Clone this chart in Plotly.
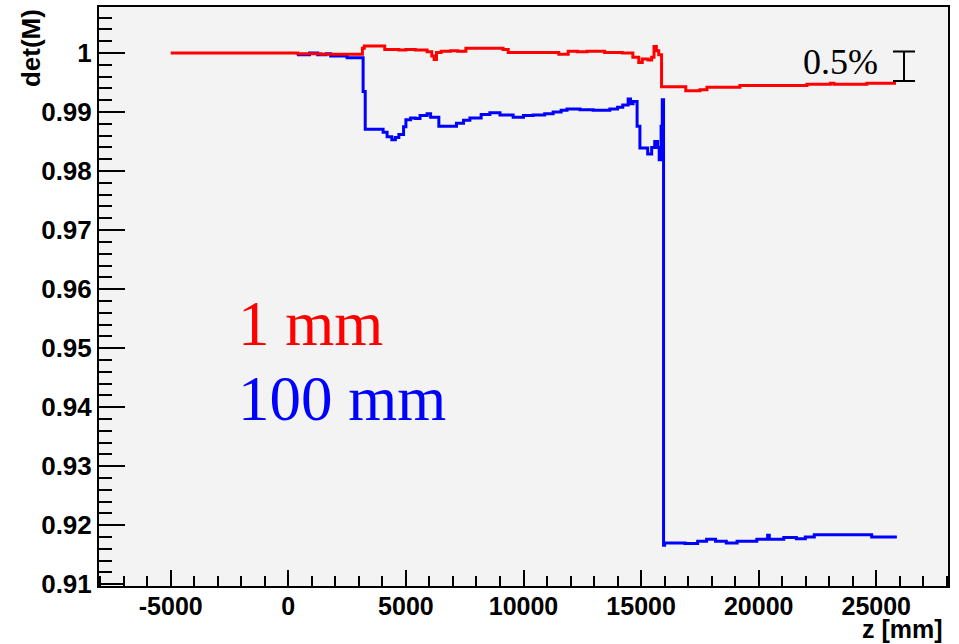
import plotly.graph_objects as go

# ---- data ----
z_1mm = [-5000, 400, 1400, 3150, 3230, 4100, 4700, 5000, 5400, 5900, 6100, 6200, 6300, 6500,
         6900, 7200, 7550, 9130, 9350, 11500, 11900, 12300, 12700, 13450, 14200, 14650, 14900,
         15050, 15300, 15450, 15550, 15650, 15750, 15870, 16900, 17500, 17800, 19200, 22050,
         23050, 23200, 24600, 25840]
det_1mm = [1.0000, 0.9999, 0.9998, 1.0008, 1.0012, 1.0006, 1.0005, 1.0006, 1.0005, 1.0002,
           0.9995, 0.9989, 1.0001, 1.0003, 1.0004, 1.0003, 1.0008, 1.0006, 1.0001, 0.9998,
           1.0003, 1.0002, 1.0003, 1.0001, 1.0000, 0.9993, 0.9984, 0.9990, 0.9988, 0.9993,
           1.0011, 1.0004, 0.9997, 0.9943, 0.9936, 0.9938, 0.9942, 0.9945, 0.9947, 0.9949,
           0.9947, 0.9949, 0.9949]

z_100mm = [370, 900, 1250, 1600, 1800, 2500, 3180, 3270, 4030, 4200, 4400, 4550, 4700, 4900,
           5000, 5200, 5400, 5600, 5900, 6050, 6400, 7150, 7450, 7720, 8200, 8570, 9000, 9560,
           10000, 10410, 10900, 11260, 11600, 11850, 12400, 12960, 13670, 14000, 14220, 14450,
           14550, 14660, 14830, 14950, 15280, 15450, 15580, 15700, 15770, 15850, 15900, 15955,
           16000, 16868, 17404, 17786, 18166, 18624, 19083, 19921, 20380, 20450, 21068, 21602,
           21983, 22365, 24805, 25876]
det_100mm = [0.9997, 1.0000, 0.9997, 0.9999, 0.9995, 0.9992, 0.9935, 0.9871, 0.9866, 0.9858,
             0.9853, 0.9857, 0.9862, 0.9875, 0.9887, 0.9890, 0.9889, 0.9894, 0.9897, 0.9891,
             0.9876, 0.9881, 0.9886, 0.9890, 0.9896, 0.9899, 0.9895, 0.9891, 0.9894, 0.9895,
             0.9897, 0.9900, 0.9903, 0.9905, 0.9904, 0.9903, 0.9905, 0.9908, 0.9912, 0.9922,
             0.9914, 0.9918, 0.9876, 0.9839, 0.9829, 0.9840, 0.9850, 0.9840, 0.9819, 0.9876,
             0.9921, 0.9166, 0.9170, 0.9169, 0.9173, 0.9176, 0.9173, 0.9170, 0.9173, 0.9176,
             0.9183, 0.9176, 0.9179, 0.9177, 0.9180, 0.9184, 0.9180, 0.9180]

# 0.5% scale bar
bar_z = [26180]
bar_center = [0.99775]
bar_half = [0.0025]

x_tickvals = [-5000, 0, 5000, 10000, 15000, 20000, 25000]
x_ticktext = ["-5000", "0", "5000", "10000", "15000", "20000", "25000"]
y_tickvals = [0.91, 0.92, 0.93, 0.94, 0.95, 0.96, 0.97, 0.98, 0.99, 1.0]
y_ticktext = ["0.91", "0.92", "0.93", "0.94", "0.95", "0.96", "0.97", "0.98", "0.99", "1"]

fig = go.Figure()
fig.add_trace(go.Scatter(x=z_100mm, y=det_100mm, mode="lines", line_shape="hv",
                         line=dict(color="#0000ff", width=3), hoverinfo="skip"))
fig.add_trace(go.Scatter(x=z_1mm, y=det_1mm, mode="lines", line_shape="hv",
                         line=dict(color="#ff0000", width=3), hoverinfo="skip"))
fig.add_trace(go.Scatter(x=bar_z, y=bar_center, mode="markers",
                         marker=dict(size=1, color="rgba(0,0,0,0)"),
                         error_y=dict(type="data", array=bar_half, visible=True,
                                      color="black", thickness=2, width=11),
                         hoverinfo="skip"))

tickfont = dict(family="Liberation Sans, Arial, sans-serif", size=26, color="black", weight="bold")
xtickfont = dict(family="Liberation Sans, Arial, sans-serif", size=25, color="black", weight="bold")

fig.update_layout(
    width=959, height=644,
    margin=dict(l=99, r=11, t=7, b=58),
    paper_bgcolor="white", plot_bgcolor="#f3f3f3",
    showlegend=False,
    xaxis=dict(range=[-8050, 28050], tickvals=x_tickvals, ticktext=x_ticktext,
               automargin=False, ticklabelstandoff=-3,
               ticks="inside", ticklen=16, tickwidth=1.5, tickcolor="black",
               minor=dict(ticks="inside", ticklen=10, dtick=1000, tick0=0,
                          tickwidth=1.5, tickcolor="black"),
               showgrid=False, zeroline=False, showline=True, linecolor="black",
               linewidth=2, mirror=True, tickfont=xtickfont),
    yaxis=dict(range=[0.9097, 1.0078], tickvals=y_tickvals, ticktext=y_ticktext,
               automargin=False,
               ticks="inside", ticklen=26, tickwidth=1.5, tickcolor="black",
               minor=dict(ticks="inside", ticklen=13, dtick=0.002, tick0=0.91,
                          tickwidth=1.5, tickcolor="black"),
               showgrid=False, zeroline=False, showline=True, linecolor="black",
               linewidth=2, mirror=True, tickfont=tickfont),
    annotations=[
        dict(text="det(M)", xref="paper", yref="paper", x=-0.080, y=1.0,
             xanchor="center", yanchor="top", textangle=-90, showarrow=False,
             font=dict(family="Liberation Sans, Arial, sans-serif", size=26,
                       color="black", weight="bold")),
        dict(text="z [mm]", xref="paper", yref="paper", x=0.9965, y=-0.0735,
             xanchor="right", yanchor="middle", showarrow=False,
             font=dict(family="Liberation Sans, Arial, sans-serif", size=25,
                       color="black", weight="bold")),
        dict(text="1 mm", xref="paper", yref="paper", x=0.1614, y=0.4525,
             xanchor="left", yanchor="middle", showarrow=False,
             font=dict(family="Liberation Serif, Times New Roman, serif", size=63,
                       color="#ff0000")),
        dict(text="100 mm", xref="paper", yref="paper", x=0.1614, y=0.323,
             xanchor="left", yanchor="middle", showarrow=False,
             font=dict(family="Liberation Serif, Times New Roman, serif", size=63,
                       color="#0000ff")),
        dict(text="0.5%", xref="paper", yref="paper", x=0.9199, y=0.9055,
             xanchor="right", yanchor="middle", showarrow=False,
             font=dict(family="Liberation Serif, Times New Roman, serif", size=36,
                       color="black")),
    ],
)

fig.write_html("out.html", config={"displayModeBar": False},
               post_script="document.body.style.margin='0px';document.body.style.padding='0px';")
